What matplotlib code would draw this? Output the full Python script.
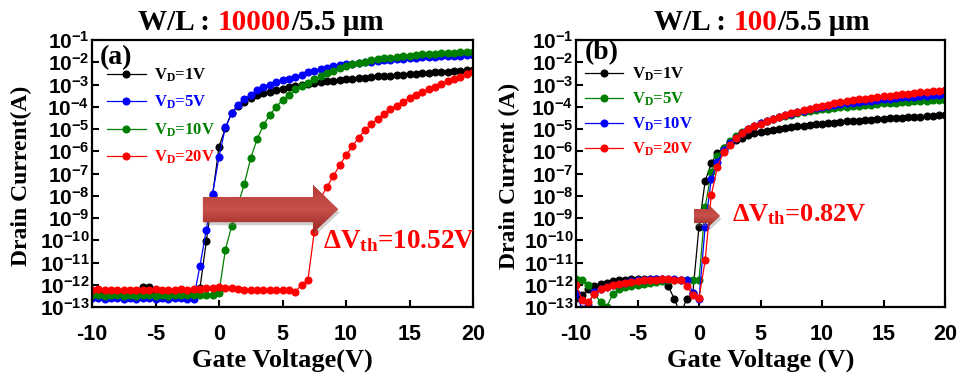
import numpy as np
import matplotlib
matplotlib.use("Agg")
import matplotlib.pyplot as plt
from matplotlib.patches import Polygon
from matplotlib.image import AxesImage
from matplotlib.colors import LinearSegmentedColormap

plt.rcParams['mathtext.fontset'] = 'custom'
plt.rcParams['mathtext.rm'] = 'Liberation Serif:bold'
plt.rcParams['mathtext.it'] = 'Liberation Serif:bold'
plt.rcParams['mathtext.bf'] = 'Liberation Sans:bold'
plt.rcParams['axes.unicode_minus'] = False

# ---------------- data ----------------
vg = [-10.0, -9.5, -9.0, -8.5, -8.0, -7.5, -7.0, -6.5, -6.0, -5.5,
      -5.0, -4.5, -4.0, -3.5, -3.0, -2.5, -2.0, -1.5, -1.0, -0.5,
      0.0, 0.5, 1.0, 1.5, 2.0, 2.5, 3.0, 3.5, 4.0, 4.5,
      5.0, 5.5, 6.0, 6.5, 7.0, 7.5, 8.0, 8.5, 9.0, 9.5,
      10.0, 10.5, 11.0, 11.5, 12.0, 12.5, 13.0, 13.5, 14.0, 14.5,
      15.0, 15.5, 16.0, 16.5, 17.0, 17.5, 18.0, 18.5, 19.0, 19.5, 20.0]

# log10 of drain current (A), panel (a) W/L = 10000/5.5
a_vd1 = [-12.38, -12.40, -12.42, -12.44, -12.45, -12.42, -12.45, -12.43, -12.09, -12.09,
         -12.42, -12.45, -12.45, -12.44, -12.43, -12.42, -12.42, -12.15, -10.05, -7.95,
         -5.80, -4.97, -4.27, -3.95, -3.77, -3.62, -3.48, -3.40, -3.32, -3.25,
         -3.18, -3.13, -3.08, -3.03, -2.99, -2.95, -2.90, -2.86, -2.83, -2.80,
         -2.77, -2.74, -2.72, -2.69, -2.67, -2.64, -2.62, -2.60, -2.58, -2.56,
         -2.54, -2.52, -2.50, -2.48, -2.46, -2.44, -2.42, -2.40, -2.38, -2.36, -2.33]
a_vd5 = [-12.58, -12.60, -12.62, -12.60, -12.61, -12.63, -12.60, -12.62, -12.60, -12.61,
         -12.63, -12.60, -12.62, -12.60, -12.61, -12.62, -12.62, -11.16, -9.53, -7.90,
         -6.25, -4.93, -4.27, -3.92, -3.67, -3.45, -3.26, -3.12, -3.00, -2.90,
         -2.82, -2.74, -2.66, -2.58, -2.46, -2.40, -2.30, -2.24, -2.19, -2.14,
         -2.10, -2.06, -2.03, -2.00, -1.97, -1.94, -1.91, -1.89, -1.86, -1.84,
         -1.82, -1.80, -1.78, -1.77, -1.75, -1.74, -1.72, -1.71, -1.70, -1.68, -1.67]
a_vd10 = [-12.46, -12.48, -12.50, -12.48, -12.47, -12.49, -12.48, -12.50, -12.48, -12.47,
          -12.49, -12.48, -12.50, -12.48, -12.47, -12.48, -12.48, -12.47, -12.47, -12.47,
          -12.35, -10.43, -9.35, -8.40, -7.46, -6.30, -5.46, -4.82, -4.37, -4.00,
          -3.70, -3.47, -3.22, -3.07, -2.93, -2.77, -2.62, -2.50, -2.38, -2.27,
          -2.18, -2.10, -2.03, -1.97, -1.92, -1.87, -1.83, -1.79, -1.76, -1.73,
          -1.70, -1.67, -1.65, -1.63, -1.61, -1.60, -1.58, -1.57, -1.56, -1.55, -1.54]
a_vd20 = [-12.22, -12.20, -12.24, -12.22, -12.25, -12.23, -12.25, -12.22, -12.24, -12.23,
          -12.20, -12.22, -12.24, -12.22, -12.20, -12.22, -12.20, -12.18, -12.15, -12.14,
          -12.12, -12.14, -12.15, -12.20, -12.22, -12.24, -12.22, -12.25, -12.23, -12.24,
          -12.22, -12.25, -12.31, -12.01, -11.79, -9.63, -8.10, -7.60, -7.12, -6.63,
          -6.18, -5.77, -5.39, -5.04, -4.78, -4.55, -4.33, -4.11, -3.95, -3.77,
          -3.62, -3.47, -3.35, -3.22, -3.10, -2.98, -2.86, -2.75, -2.65, -2.54, -2.45]

# panel (b) W/L = 100/5.5
b_vd1 = [-12.60, -12.46, -12.20, -12.05, -11.95, -11.90, -11.85, -11.80, -11.77, -11.75,
         -11.73, -11.72, -11.72, -11.72, -11.75, -12.06, -12.65, -13.30, -12.65, -12.36,
         -9.39, -7.34, -6.54, -6.09, -5.86, -5.65, -5.50, -5.40, -5.28, -5.20,
         -5.14, -5.09, -5.05, -5.00, -4.96, -4.92, -4.88, -4.85, -4.82, -4.79,
         -4.76, -4.73, -4.71, -4.68, -4.66, -4.64, -4.62, -4.60, -4.58, -4.56,
         -4.54, -4.52, -4.50, -4.49, -4.47, -4.46, -4.44, -4.42, -4.41, -4.39, -4.37]
b_vd5 = [-11.76, -11.78, -12.03, -12.40, -12.78, -12.98, -12.42, -12.20, -12.12, -12.05,
         -12.00, -11.95, -11.90, -11.86, -11.82, -11.79, -11.77, -11.77, -11.77, -11.78,
         -11.80, -8.50, -6.95, -6.22, -5.86, -5.56, -5.33, -5.15, -4.98, -4.85,
         -4.74, -4.64, -4.55, -4.48, -4.41, -4.35, -4.29, -4.24, -4.19, -4.15,
         -4.12, -4.09, -4.06, -4.03, -4.00, -3.97, -3.95, -3.93, -3.90, -3.88,
         -3.85, -3.83, -3.81, -3.79, -3.77, -3.76, -3.74, -3.73, -3.71, -3.70, -3.69]
b_vd10 = [-12.38, -13.10, -12.92, -12.31, -12.18, -12.08, -12.00, -11.95, -11.90, -11.85,
          -11.80, -11.77, -11.75, -11.74, -11.74, -11.75, -11.76, -11.77, -11.80, -12.35,
          -12.65, -9.39, -7.25, -6.50, -5.95, -5.64, -5.40, -5.20, -5.02, -4.88,
          -4.75, -4.64, -4.54, -4.46, -4.38, -4.31, -4.24, -4.18, -4.12, -4.07,
          -4.02, -3.97, -3.93, -3.89, -3.85, -3.81, -3.78, -3.75, -3.72, -3.69,
          -3.66, -3.63, -3.61, -3.58, -3.56, -3.54, -3.52, -3.50, -3.48, -3.46, -3.44]
b_vd20 = [-12.01, -12.69, -12.76, -12.42, -12.20, -12.09, -12.00, -11.95, -11.90, -11.86,
          -11.82, -11.80, -11.78, -11.77, -11.76, -11.76, -11.77, -11.78, -12.06, -12.45,
          -12.60, -10.91, -7.97, -6.70, -6.05, -5.70, -5.42, -5.20, -5.02, -4.88,
          -4.76, -4.65, -4.55, -4.46, -4.38, -4.30, -4.22, -4.15, -4.08, -4.02,
          -3.96, -3.90, -3.85, -3.80, -3.75, -3.71, -3.67, -3.63, -3.59, -3.56,
          -3.53, -3.50, -3.47, -3.44, -3.41, -3.38, -3.35, -3.32, -3.30, -3.27, -3.25]

a_labels = ['1V', '5V', '10V', '20V']
a_colors = ['black', '#0000ff', '#008000', '#ff0000']
b_labels = ['1V', '5V', '10V', '20V']
b_colors = ['black', '#008000', '#0000ff', '#ff0000']

xticks = [-10, -5, 0, 5, 10, 15, 20]
xtick_labels = ['-10', '-5', '0', '5', '10', '15', '20']
ytick_exps = list(range(-13, 0))

# ---------------- figure ----------------
W, H = 957, 374
fig = plt.figure(figsize=(W / 100, H / 100), dpi=100)
ax_a = fig.add_axes([92 / W, 1 - 307 / H, 381 / W, 267 / H])
ax_b = fig.add_axes([576 / W, 1 - 307 / H, 369 / W, 267 / H])

serif_b = dict(family='Liberation Serif', weight='bold')
sans_b = dict(family='Liberation Sans', weight='bold')


def style_axes(ax, xlabel, ylabel, ylab_x):
    ax.set_yscale('log')
    ax.set_xlim(-10, 20)
    ax.set_ylim(1e-13, 1e-1)
    ax.set_xticks(xticks)
    ax.set_xticklabels(xtick_labels, fontsize=15.5, **sans_b)
    ax.set_yticks([10.0 ** e for e in ytick_exps])
    ax.set_yticklabels([r'$\mathbf{10^{%d}}$' % e for e in ytick_exps], fontsize=15)
    ax.yaxis.set_minor_locator(matplotlib.ticker.NullLocator())
    ax.tick_params(axis='both', direction='in', length=5, width=1.5)
    ax.tick_params(axis='x', pad=12)
    ax.tick_params(axis='y', pad=2)
    for s in ax.spines.values():
        s.set_linewidth(1.6)
    ax.set_xlabel(xlabel, fontsize=19, **serif_b)
    ax.xaxis.set_label_coords(0.5, -0.198)
    ax.xaxis.label.set_va('center')
    ax.set_ylabel(ylabel, fontsize=17, **serif_b)
    ax.yaxis.set_label_coords(ylab_x, 0.49)
    ax.yaxis.label.set_va('center')


def draw_curves(ax, series, labels, colors):
    for ys, lab, c in zip(series, labels, colors):
        ax.plot(vg, 10.0 ** np.array(ys), '-o', color=c, lw=0.9, ms=4.8,
                label=r'$\mathrm{V_D}$=' + lab, clip_on=True)


def draw_arrow(ax, x0, xh, xt, sb, st, hb, ht, yc):
    verts = [(x0, sb), (xh, sb), (xh, hb), (xt, yc), (xh, ht), (xh, st), (x0, st)]
    shadow = Polygon([(x + 0.004, y - 0.012) for x, y in verts], closed=True,
                     transform=ax.transAxes, facecolor='#7a7a7a', alpha=0.35,
                     edgecolor='none', zorder=5)
    ax.add_patch(shadow)
    poly = Polygon(verts, closed=True, transform=ax.transAxes,
                   facecolor='#b8403c', edgecolor='none', zorder=6)
    ax.add_patch(poly)
    cmap = LinearSegmentedColormap.from_list('arr', ['#9a2622', '#c8514c', '#b53935'])
    grad = np.linspace(0, 1, 64).reshape(-1, 1)
    im = AxesImage(ax, cmap=cmap, interpolation='bilinear', origin='lower',
                   extent=(x0, xt, hb, ht), transform=ax.transAxes, zorder=7)
    im.set_data(grad)
    im.set_clip_path(poly)
    ax.add_artist(im)


# panel (a)
draw_curves(ax_a, [a_vd1, a_vd5, a_vd10, a_vd20], a_labels, a_colors)
style_axes(ax_a, 'Gate Voltage(V)', 'Drain Current(A)', -0.184)
ax_a.legend(loc='upper left', bbox_to_anchor=(0.04, 0.9), frameon=False,
            prop=dict(size=12, **serif_b), labelcolor='linecolor',
            handlelength=2.3, handletextpad=0.5, labelspacing=0.6,
            borderpad=0, borderaxespad=0)
ax_a.text(0.02, 0.935, '(a)', transform=ax_a.transAxes, fontsize=20, va='center',
          ha='left', **serif_b)
draw_arrow(ax_a, 0.291, 0.58, 0.646, 0.318, 0.412, 0.277, 0.457, 0.366)
ax_a.text(0.606, 0.22, r'Δ$\mathrm{V_{th}}$=10.52V', transform=ax_a.transAxes,
          fontsize=19.5, color='#ff0000', ha='left', va='baseline', zorder=8, **serif_b)

# panel (b)
draw_curves(ax_b, [b_vd1, b_vd5, b_vd10, b_vd20], b_labels, b_colors)
style_axes(ax_b, 'Gate Voltage (V)', 'Drain Current (A)', -0.179)
ax_b.legend(loc='upper left', bbox_to_anchor=(0.024, 0.905), frameon=False,
            prop=dict(size=12, **serif_b), labelcolor='linecolor',
            handlelength=2.3, handletextpad=0.5, labelspacing=0.47,
            borderpad=0, borderaxespad=0)
ax_b.text(0.025, 0.952, '(b)', transform=ax_b.transAxes, fontsize=20, va='center',
          ha='left', **serif_b)
draw_arrow(ax_b, 0.32, 0.358, 0.39, 0.315, 0.367, 0.30, 0.385, 0.341)
ax_b.text(0.423, 0.32, r'Δ$\mathrm{V_{th}}$=0.82V', transform=ax_b.transAxes,
          fontsize=19, color='#ff0000', ha='left', va='baseline', zorder=8, **serif_b)

# multi-coloured titles
renderer = fig.canvas.get_renderer()


def color_title(segs, xc_px, yc_px, size):
    texts, widths = [], []
    for s, c in segs:
        t = fig.text(0, 1 - yc_px / H, s, color=c, va='center', ha='left',
                     fontsize=size, **serif_b)
        widths.append(t.get_window_extent(renderer).width)
        texts.append(t)
    x = xc_px - sum(widths) / 2
    for t, w in zip(texts, widths):
        t.set_x(x / W)
        x += w


color_title([('W/L : ', 'black'), ('10000', '#ff0000'), ('/5.5 μm', 'black')], 261, 22, 21)
color_title([('W/L : ', 'black'), ('100', '#ff0000'), ('/5.5 μm', 'black')], 762, 22, 21)

fig.savefig('out.png', dpi=100)
